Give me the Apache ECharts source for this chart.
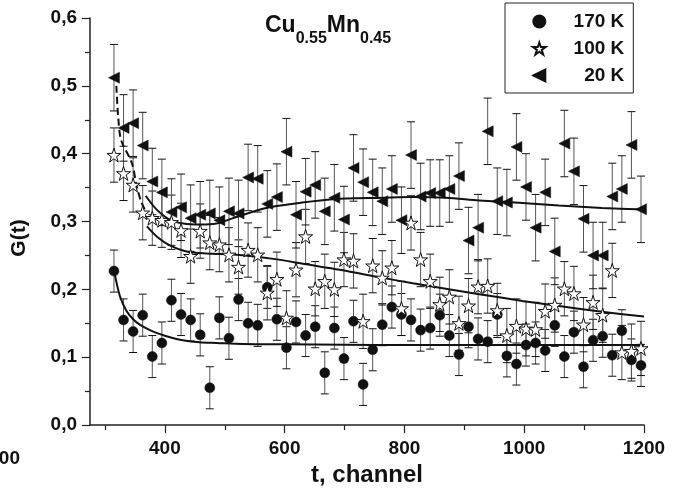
<!DOCTYPE html>
<html>
<head>
<meta charset="utf-8">
<script src="https://cdn.jsdelivr.net/npm/echarts@6/dist/echarts.min.js"></script>
<style>
  html, body { margin: 0; padding: 0; background: #fff; }
  #chart { width: 675px; height: 492px; }
</style>
</head>
<body>
<div id="chart"></div>
<script>
// ---- data ----
const channels = [315,331,347,363,379,395,411,427,443,459,475,491,507,523,539,555,571,587,603,619,635,651,667,683,699,715,731,747,763,779,795,811,827,843,859,875,891,907,923,939,955,971,987,1003,1019,1035,1051,1067,1083,1099,1115,1131,1147,1163,1179,1195];

const g170 = [0.227,0.155,0.138,0.162,0.101,0.121,0.184,0.163,0.155,0.133,0.055,0.158,0.128,0.185,0.150,0.147,0.203,0.156,0.114,0.152,0.132,0.145,0.077,0.143,0.098,0.153,0.060,0.111,0.148,0.174,0.163,0.155,0.140,0.143,0.162,0.132,0.104,0.145,0.127,0.123,0.163,0.102,0.090,0.118,0.121,0.110,0.147,0.101,0.137,0.086,0.125,0.131,0.103,0.139,0.096,0.088];

const g100 = [0.398,0.371,0.354,0.313,0.305,0.302,0.299,0.287,0.249,0.286,0.269,0.266,0.251,0.233,0.258,0.251,0.195,0.215,0.158,0.229,0.278,0.201,0.212,0.200,0.244,0.242,0.153,0.235,0.217,0.232,0.172,0.298,0.244,0.212,0.178,0.189,0.150,0.176,0.204,0.205,0.169,0.132,0.146,0.142,0.141,0.168,0.177,0.201,0.194,0.148,0.181,0.162,0.228,0.107,0.109,0.113];

const g20 = [0.512,0.438,0.445,0.412,0.359,0.343,0.314,0.321,0.305,0.310,0.312,0.302,0.315,0.312,0.365,0.363,0.326,0.336,0.403,0.310,0.344,0.354,0.315,0.335,0.303,0.379,0.358,0.343,0.330,0.348,0.302,0.398,0.337,0.342,0.342,0.348,0.367,0.272,0.291,0.433,0.330,0.328,0.410,0.351,0.291,0.343,0.256,0.415,0.374,0.304,0.250,0.250,0.337,0.348,0.413,0.318];

const err170 = 0.031;
const err100 = 0.040;
const err20 = 0.049;

const fit170X = [316,325,336,347,358,375,392,410,430,458,486,530,600,700,800,900,1000,1100,1200];
const fit170Y = [0.224,0.190,0.168,0.156,0.148,0.140,0.134,0.129,0.125,0.122,0.121,0.1195,0.119,0.1185,0.118,0.118,0.118,0.118,0.118];

const fit100X = [370,389,408,436,469,514,581,636,692,764,814,869,925,997,1058,1130,1200];
const fit100Y = [0.293,0.276,0.265,0.256,0.253,0.2515,0.245,0.237,0.229,0.217,0.209,0.201,0.193,0.183,0.1755,0.167,0.160];

const fit20X = [368,386,408,431,458,486,514,569,625,680,764,814,869,925,997,1058,1130,1200];
const fit20Y = [0.338,0.318,0.303,0.297,0.2956,0.297,0.305,0.320,0.3275,0.333,0.335,0.336,0.335,0.331,0.3274,0.3235,0.320,0.3176];

const dashX = [319,322,327,345,353,361,370];
const dashY = [0.50,0.455,0.42,0.386,0.352,0.328,0.312];

const xMajorTicks = [400,600,800,1000,1200];
const xMinorTicks = [300,500,700,900,1100];
const seriesNames = ['170 K','100 K','20 K'];

// ---- helpers ----
const FONT = 'Liberation Sans, Arial, Helvetica, sans-serif';
const zip = (xs, ys) => xs.map((x, i) => [x, ys[i]]);
const STAR = 'path://M50,0 L61.2,34.6 L97.6,34.5 L68.1,55.9 L79.4,90.5 L50,69 L20.6,90.5 L31.9,55.9 L2.4,34.5 L38.8,34.6 Z';
const LTRI = 'path://M0,50 L100,0 L100,100 Z';

function errorSeries(vals, err) {
  return {
    type: 'custom',
    silent: true,
    z: 1,
    data: channels.map((c, i) => [c, vals[i], err]),
    renderItem: function (params, api) {
      const x = api.value(0), y = api.value(1), e = api.value(2);
      const t = api.coord([x, y + e]);
      const b = api.coord([x, y - e]);
      const h = 4;
      return {
        type: 'group',
        children: [
          { type: 'line', shape: { x1: t[0], y1: t[1], x2: b[0], y2: b[1] }, style: { stroke: '#555', lineWidth: 1 } },
          { type: 'line', shape: { x1: t[0] - h, y1: t[1], x2: t[0] + h, y2: t[1] }, style: { stroke: '#111', lineWidth: 1 } },
          { type: 'line', shape: { x1: b[0] - h, y1: b[1], x2: b[0] + h, y2: b[1] }, style: { stroke: '#111', lineWidth: 1 } }
        ]
      };
    }
  };
}

function fitSeries(xs, ys, dashed) {
  return {
    type: 'line',
    data: zip(xs, ys),
    showSymbol: false,
    smooth: 0.3,
    silent: true,
    z: 2,
    lineStyle: { color: '#111', width: 2, type: dashed ? [7, 4] : 'solid' }
  };
}

const chart = echarts.init(document.getElementById('chart'), null, { renderer: 'canvas' });

const option = {
  animation: false,
  backgroundColor: '#fff',
  textStyle: { fontFamily: FONT },
  title: {
    left: 265,
    top: 14,
    padding: 0,
    text: '{m|Cu}{s|0.55}{m|Mn}{s|0.45}',
    textStyle: {
      rich: {
        m: { fontFamily: FONT, fontWeight: 'bold', fontSize: 23, lineHeight: 27, color: '#111', verticalAlign: 'top' },
        s: { fontFamily: FONT, fontWeight: 'bold', fontSize: 16, lineHeight: 18, color: '#111', verticalAlign: 'top', padding: [17, 0, 0, 0] }
      }
    }
  },
  legend: {
    orient: 'vertical',
    left: 505,
    top: 3,
    padding: [9, 9, 8, 27],
    itemGap: 8,
    itemWidth: 14,
    itemHeight: 12,
    borderColor: '#222',
    borderWidth: 1,
    data: seriesNames,
    formatter: function (name) { return '{r|' + name + '}'; },
    textStyle: {
      rich: {
        r: { fontFamily: FONT, fontWeight: 'bold', fontSize: 19, lineHeight: 17, width: 73, align: 'right', color: '#111' }
      }
    }
  },
  grid: { left: 90, right: 31, top: 18, bottom: 66, containLabel: false },
  xAxis: [
    {
      type: 'value',
      min: 275,
      max: 1200,
      name: 't, channel',
      nameLocation: 'middle',
      nameGap: 36,
      nameTextStyle: { fontFamily: FONT, fontWeight: 'bold', fontSize: 24, color: '#111' },
      splitLine: { show: false },
      axisLine: { show: true, lineStyle: { color: '#222', width: 1.5 } },
      axisTick: { show: true, inside: false, length: 8, customValues: xMajorTicks, lineStyle: { color: '#222', width: 1.2 } },
      axisLabel: {
        show: true, margin: 14, customValues: xMajorTicks,
        fontFamily: FONT, fontWeight: 'bold', fontSize: 19, color: '#111',
        formatter: function (v) { return String(v); }
      }
    },
    {
      type: 'value',
      min: 275,
      max: 1200,
      position: 'bottom',
      splitLine: { show: false },
      axisLine: { show: false },
      axisTick: { show: true, inside: false, length: 5, customValues: xMinorTicks, lineStyle: { color: '#222', width: 1.2 } },
      axisLabel: { show: false }
    }
  ],
  yAxis: {
    type: 'value',
    min: 0,
    max: 0.6,
    interval: 0.1,
    splitLine: { show: false },
    axisLine: { show: true, lineStyle: { color: '#222', width: 1.5 } },
    axisTick: { show: true, inside: false, length: 8, lineStyle: { color: '#222', width: 1.2 } },
    minorTick: { show: true, splitNumber: 2, length: 5, lineStyle: { color: '#222', width: 1.2 } },
    axisLabel: {
      margin: 13,
      fontFamily: FONT, fontWeight: 'bold', fontSize: 19, color: '#111',
      formatter: function (v) { return v.toFixed(1).replace('.', ','); }
    }
  },
  graphic: [
    {
      type: 'text',
      x: 19, y: 238,
      rotation: Math.PI / 2,
      style: { text: 'G(t)', fontFamily: FONT, fontWeight: 'bold', fontSize: 21, fill: '#111', align: 'center', verticalAlign: 'middle' }
    },
    {
      type: 'text',
      x: 20, y: 459,
      style: { text: '00', fontFamily: FONT, fontWeight: 'bold', fontSize: 19, fill: '#111', align: 'right', verticalAlign: 'middle' }
    }
  ],
  series: [
    errorSeries(g170, err170),
    errorSeries(g100, err100),
    errorSeries(g20, err20),
    fitSeries(fit170X, fit170Y, false),
    fitSeries(fit100X, fit100Y, false),
    fitSeries(fit20X, fit20Y, false),
    fitSeries(dashX, dashY, true),
    {
      name: seriesNames[0], type: 'scatter', z: 3,
      data: zip(channels, g170),
      symbol: 'circle', symbolSize: 10,
      itemStyle: { color: '#111', borderColor: '#111', borderWidth: 0.5, opacity: 1 }
    },
    {
      name: seriesNames[1], type: 'scatter', z: 4,
      data: zip(channels, g100),
      symbol: STAR, symbolSize: 14,
      itemStyle: { color: '#fff', borderColor: '#111', borderWidth: 1, opacity: 1 }
    },
    {
      name: seriesNames[2], type: 'scatter', z: 3,
      data: zip(channels, g20),
      symbol: LTRI, symbolSize: [11, 11],
      itemStyle: { color: '#111', borderColor: '#111', borderWidth: 0.5, opacity: 1 }
    }
  ]
};

chart.setOption(option);
</script>
</body>
</html>
